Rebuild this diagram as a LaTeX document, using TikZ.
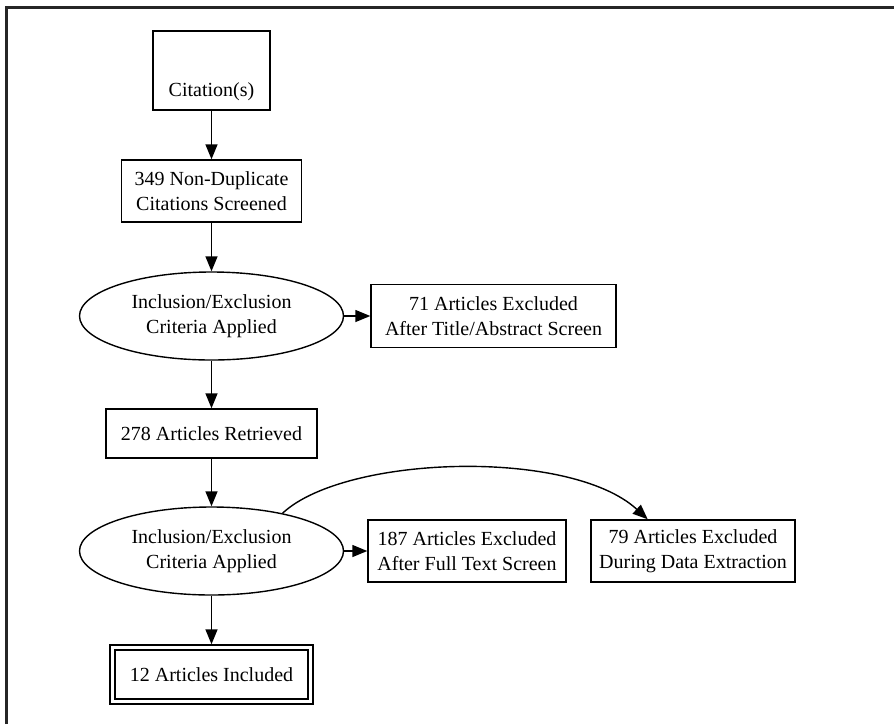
\documentclass[tikz,border=0pt]{standalone}
\usepackage{fontspec}
\setmainfont{Liberation Serif}
\usetikzlibrary{shapes.geometric}
\usetikzlibrary{positioning}
\usetikzlibrary{arrows.meta}

\begin{document}
\begin{tikzpicture}[x=0.5pt, y=-0.5pt,
  every node/.style={font=\fontsize{10}{12.5}\selectfont, align=center, inner sep=0pt},
  box/.style={draw, rectangle, line width=0.7pt},
  crit/.style={draw, ellipse, line width=0.7pt, minimum width=132pt, minimum height=44pt},
  flow/.style={-{Triangle[length=7.5pt,width=6pt]}, line width=0.7pt}]

 \useasboundingbox (0,0) rectangle (894,724);

    % draw frame
    \draw[line width=1.5pt, black!85] (6,724) -- (6,7) -- (894,7);

    % main column
    \node (cites) [box, minimum width=58.5pt, minimum height=39.5pt] at (211.5,70.5) {};
    \node (citeslbl) at (211.5,92) {Citation(s)};
    \node (screened) [box, minimum width=90pt, minimum height=31pt] at (211.5,191) {349 Non-Duplicate\\Citations Screened};
    \node (crit1) [crit] at (211.5,316) {Inclusion/Exclusion\\Criteria Applied};
    \node (retrieved) [box, minimum width=105.5pt, minimum height=24.5pt] at (211.5,433.5) {278 Articles Retrieved};
    \node (crit2) [crit] at (211.5,551) {Inclusion/Exclusion\\Criteria Applied};
    \node (included) [box, double, double distance=1.8pt, outer sep=1.6pt, minimum width=99pt, minimum height=27pt] at (211.5,674.5) {12 Articles Included};

    % excluded boxes
    \node (excl71) [box, minimum width=122.5pt, minimum height=31.5pt] at (493.5,316) {71 Articles Excluded\\After Title/Abstract Screen};
    \node (excl187) [box, minimum width=99pt, minimum height=31pt] at (467,551) {187 Articles Excluded\\After Full Text Screen};
    \node (excl79) [box, minimum width=102pt, minimum height=31pt] at (693,551) {79 Articles Excluded\\During Data Extraction};

    % draw arrows
    \draw[flow] (cites) -- (screened);
    \draw[flow] (screened) -- (crit1);
    \draw[flow] (crit1) -- (excl71);
    \draw[flow] (crit1) -- (retrieved);
    \draw[flow] (retrieved) -- (crit2);
    \draw[flow] (crit2) -- (excl187);
    \draw[flow] (crit2.28.5) .. controls (345,455) and (570,448) .. (excl79.145);
    \draw[flow] (crit2) -- (included);
\end{tikzpicture}
\end{document}
